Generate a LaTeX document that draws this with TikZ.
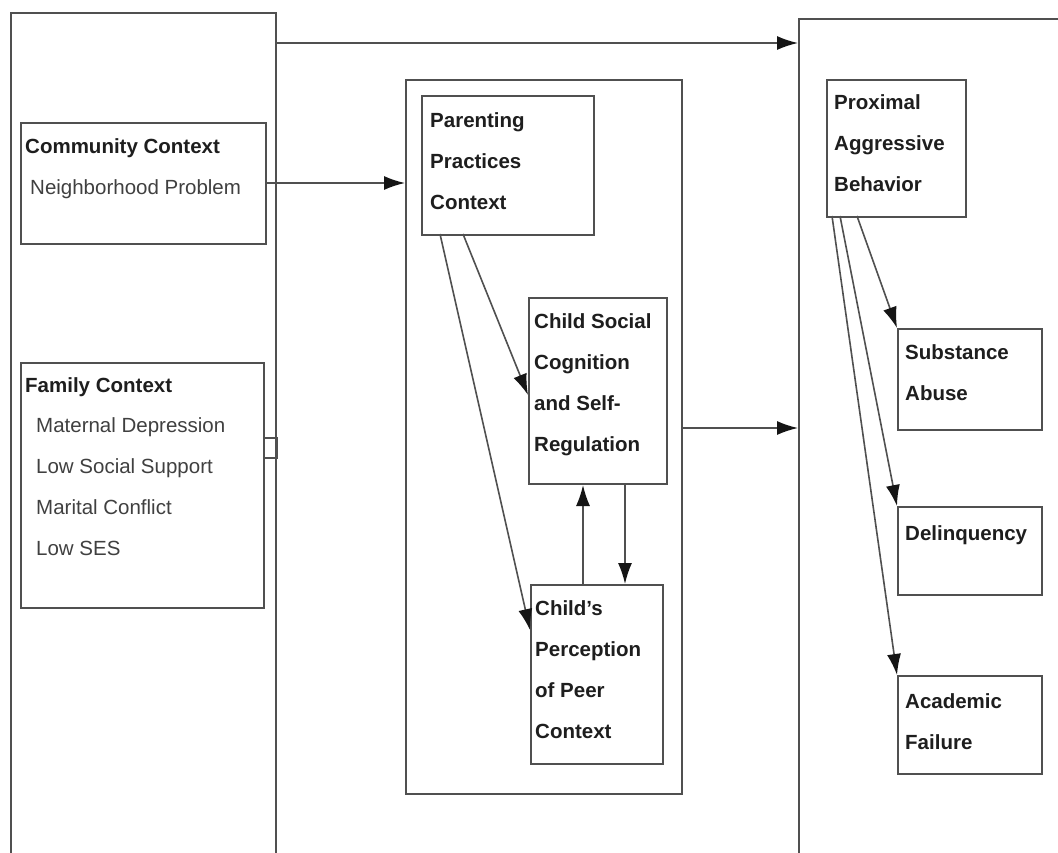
\documentclass[tikz,border=0pt]{standalone}
\usepackage{fontspec}
\setmainfont{Liberation Sans}
\usetikzlibrary{arrows.meta}
\definecolor{linec}{HTML}{505050}
\definecolor{tipc}{HTML}{151515}
\definecolor{txt}{HTML}{1E1E1E}
\definecolor{itemc}{HTML}{404040}
\tikzset{
  box/.style={draw=linec, line width=2pt, rectangle, inner sep=0pt, anchor=north west},
  arr/.style={draw=linec, line width=1.6pt, -{Latex[length=21pt,width=14pt,fill=tipc,color=tipc]}},
  ttl/.style={anchor=north west, inner sep=0pt, align=left, text=txt, font=\fontsize{20.5}{41}\selectfont\bfseries},
  itm/.style={anchor=north west, inner sep=0pt, align=left, text=itemc, font=\fontsize{20.5}{41}\selectfont},
}
\begin{document}
\begin{tikzpicture}[x=1pt,y=-1pt]
\useasboundingbox[fill=white] (0,0) rectangle (1058,852);
% big boxes
\node[box, minimum width=265pt, minimum height=900pt] (left) at (10,12) {};
\node[box, minimum width=276pt, minimum height=714pt] (mid) at (405,79) {};
\node[box, minimum width=300pt, minimum height=900pt] (right) at (798,18) {};
% left inner boxes
\node[box, minimum width=245pt, minimum height=121pt] (comm) at (20,122) {};
\node[ttl] (commt) at (25,138) {Community Context};
\node[itm] (commi) at (30,179) {Neighborhood Problem};
\node[box, minimum width=243pt, minimum height=245pt] (fam) at (20,362) {};
\node[ttl] (famt) at (25,377) {Family Context};
\node[itm] (fami) at (36,417) {Maternal Depression\\Low Social Support\\Marital Conflict\\Low SES};
\node[box, minimum width=13pt, minimum height=20pt] (sq) at (263,437) {};
% middle
\node[box, minimum width=172pt, minimum height=139pt] (par) at (421,95) {};
\node[ttl] (part) at (430,112) {Parenting\\Practices\\Context};
\node[box, minimum width=138pt, minimum height=186pt] (soc) at (528,297) {};
\node[ttl] (soct) at (534,313) {Child Social\\Cognition\\and Self-\\Regulation};
\node[box, minimum width=132pt, minimum height=179pt] (per) at (530,584) {};
\node[ttl] (pert) at (535,600) {Child's\\Perception\\of Peer\\Context};
% right
\node[box, minimum width=139pt, minimum height=137pt] (prox) at (826,79) {};
\node[ttl] (proxt) at (834,94) {Proximal\\Aggressive\\Behavior};
\node[box, minimum width=144pt, minimum height=101pt] (sub) at (897,328) {};
\node[ttl] (subt) at (905,344) {Substance\\Abuse};
\node[box, minimum width=144pt, minimum height=88pt] (del) at (897,506) {};
\node[ttl] (delt) at (905,525) {Delinquency};
\node[box, minimum width=144pt, minimum height=98pt] (aca) at (897,675) {};
\node[ttl] (acat) at (905,693) {Academic\\Failure};
% helper coordinates
\coordinate (y43) at (0,43);
\coordinate (y183) at (0,183);
\coordinate (y428) at (0,428);
\coordinate (x583) at (583,0);
\coordinate (x625) at (625,0);
\coordinate (p1) at (463,234);
\coordinate (p2) at (440,234);
\coordinate (s1) at (528,395);
\coordinate (q1) at (530,630);
\coordinate (a1) at (857,216);
\coordinate (a2) at (840,216);
\coordinate (a3) at (832,216);
% arrows
\draw[arr] (left.east |- y43) -- (right.west |- y43);
\draw[arr] (comm.east |- y183) -- (mid.west |- y183);
\draw[arr] (mid.east |- y428) -- (right.west |- y428);
\draw[arr] (p1) -- (s1);
\draw[arr] (p2) -- (q1);
\draw[arr] (per.north -| x583) -- (soc.south -| x583);
\draw[arr] (soc.south -| x625) -- (per.north -| x625);
\draw[arr] (a1) -- (sub.north west);
\draw[arr] (a2) -- (del.north west);
\draw[arr] (a3) -- (aca.north west);
\end{tikzpicture}
\end{document}
